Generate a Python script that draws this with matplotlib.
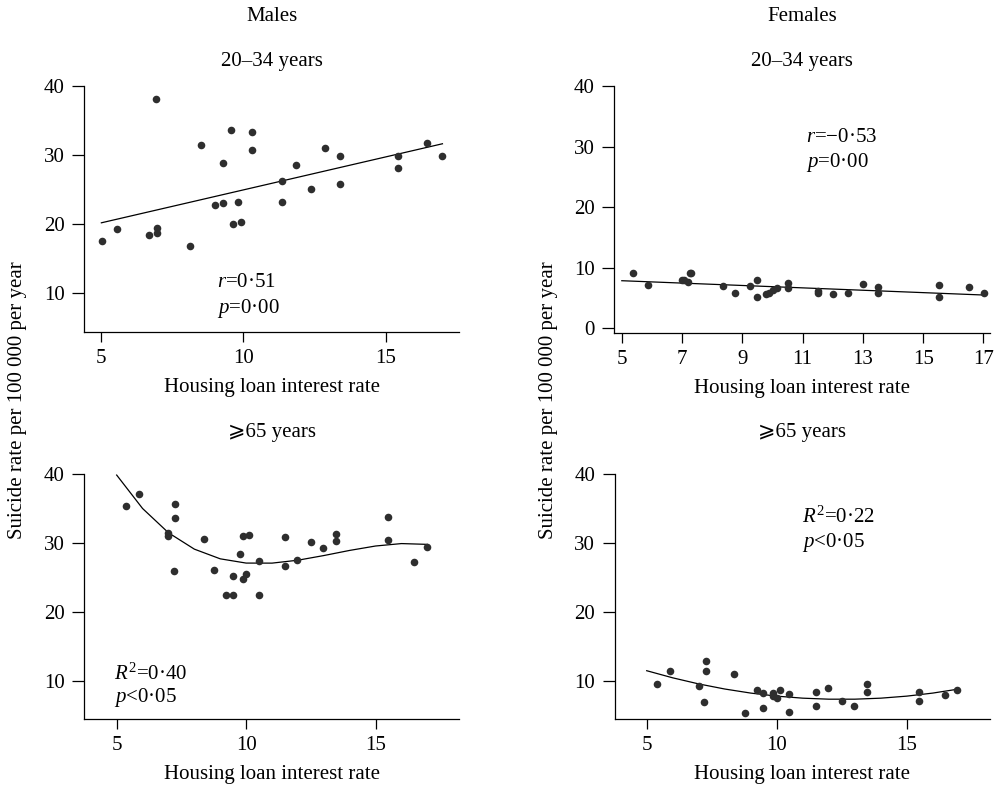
import numpy as np
import matplotlib.pyplot as plt

plt.rcParams['font.family'] = ['Liberation Serif', 'DejaVu Serif', 'DejaVu Sans']
plt.rcParams['mathtext.fontset'] = 'custom'
plt.rcParams['mathtext.rm'] = 'Liberation Serif'
plt.rcParams['mathtext.it'] = 'Liberation Serif:italic'

# values
male_young_x = [5.02, 5.55, 6.68, 6.91, 6.97, 6.97, 8.11, 8.49, 9.01, 9.27, 9.27, 9.55, 9.64, 9.80,
                9.90, 10.29, 10.29, 11.34, 11.34, 11.85, 12.37, 12.87, 13.39, 13.39, 15.44, 15.44,
                16.46, 16.99]
male_young_y = [17.5, 19.3, 18.4, 38.1, 19.4, 18.7, 16.9, 31.4, 22.8, 23.1, 28.9, 33.7, 20.0, 23.2,
                20.3, 33.4, 30.7, 26.2, 23.2, 28.6, 25.1, 31.0, 29.8, 25.8, 29.9, 28.2,
                31.8, 29.9]

female_young_x = [5.37, 5.86, 7.01, 7.05, 7.20, 7.26, 7.28, 8.37, 8.74, 9.27, 9.50, 9.50, 9.77, 9.90,
                  10.02, 10.15, 10.50, 10.50, 11.50, 11.50, 12.01, 12.51, 13.01, 13.51, 13.51,
                  15.52, 15.52, 16.52, 17.01]
female_young_y = [9.1, 7.2, 7.9, 8.0, 7.7, 9.1, 9.2, 7.0, 5.8, 7.0, 8.0, 5.1, 5.7, 5.9,
                  6.3, 6.6, 7.5, 6.6, 6.2, 5.9, 5.7, 5.9, 7.3, 6.8, 5.9,
                  7.2, 5.2, 6.9, 5.8]

male_old_x = [5.37, 5.86, 6.99, 6.99, 7.26, 7.26, 7.20, 8.36, 8.74, 9.23, 9.49, 9.49, 9.76, 9.86,
              9.87, 10.00, 10.13, 10.49, 10.49, 11.50, 11.50, 11.97, 12.50, 12.98, 13.47, 13.47,
              15.49, 15.49, 16.49, 16.97]
male_old_y = [35.4, 37.1, 31.4, 31.0, 35.6, 33.6, 25.9, 30.5, 26.1, 22.5, 22.5, 25.2, 28.4, 31.0,
              24.7, 25.5, 31.2, 27.4, 22.5, 30.8, 26.6, 27.5, 30.2, 29.2, 31.3, 30.3,
              33.7, 30.4, 27.2, 29.4]

female_old_x = [5.40, 5.88, 7.01, 7.27, 7.27, 7.22, 8.37, 8.77, 9.24, 9.48, 9.48, 9.87, 9.87, 10.00,
                10.12, 10.48, 10.48, 11.50, 11.50, 11.97, 12.50, 12.97, 13.47, 13.47, 15.46, 15.46,
                16.47, 16.95]
female_old_y = [9.5, 11.4, 9.2, 12.9, 11.4, 6.9, 10.9, 5.3, 8.6, 8.2, 6.1, 8.2, 7.8, 7.5,
                8.6, 8.1, 5.4, 8.3, 6.3, 8.9, 7.1, 6.4, 9.5, 8.3, 8.3, 7.0,
                7.9, 8.6]

# fitted curves as drawn in the figure (polynomial coefficients, highest power first)
male_young_fit = [0.9533, 15.43]
female_young_fit = [-0.1967, 8.84]
male_old_fit = [-0.0299, 1.202, -15.352, 90.29]
female_old_fit = [0.0738, -1.845, 18.83]
fit_x = np.arange(5, 18)

panels = [
    dict(x=male_young_x, y=male_young_y, fit=male_young_fit,
         rect=[0.0844, 0.5783, 0.375, 0.3126], xlim=(4.4, 17.58), ylim=(4.35, 40),
         xticks=[5, 10, 15], yticks=[10, 20, 30, 40],
         txt=[(0.353, 0.185, '$\\mathit{r}$=0·51'), (0.353, 0.078, '$\\mathit{p}$=0·00')]),
    dict(x=female_young_x, y=female_young_y, fit=female_young_fit,
         rect=[0.6149, 0.577, 0.3761, 0.3138], xlim=(4.75, 17.22), ylim=(-0.83, 40),
         xticks=[5, 7, 9, 11, 13, 15, 17], yticks=[0, 10, 20, 30, 40],
         txt=[(0.51, 0.775, '$\\mathit{r}$=\u22120·53'), (0.51, 0.674, '$\\mathit{p}$=0·00')]),
    dict(x=male_old_x, y=male_old_y, fit=male_old_fit,
         rect=[0.0844, 0.0872, 0.375, 0.3113], xlim=(3.75, 18.22), ylim=(4.4, 40),
         xticks=[5, 10, 15], yticks=[10, 20, 30, 40],
         txt=[(0.08, 0.163, '$\\mathit{R}^{\\mathrm{2}}$=0·40'), (0.08, 0.069, '$\\mathit{p}$<0·05')]),
    dict(x=female_old_x, y=female_old_y, fit=female_old_fit,
         rect=[0.6156, 0.0872, 0.3754, 0.3113], xlim=(3.78, 18.2), ylim=(4.4, 40),
         xticks=[5, 10, 15], yticks=[10, 20, 30, 40],
         txt=[(0.498, 0.80, '$\\mathit{R}^{\\mathrm{2}}$=0·22'), (0.498, 0.704, '$\\mathit{p}$<0·05')]),
]

fig = plt.figure(figsize=(9.99, 7.88), dpi=100)

for p in panels:
    ax = fig.add_axes(p['rect'])
    ax.scatter(p['x'], p['y'], s=30, color='#2e2e2e', linewidths=0, zorder=3, clip_on=False)
    ax.plot(fit_x, np.polyval(p['fit'], fit_x), color='black', lw=0.9)
    ax.set_xlim(p['xlim'])
    ax.set_ylim(p['ylim'])
    ax.set_xticks(p['xticks'])
    ax.set_yticks(p['yticks'])
    for s in ['top', 'right']:
        ax.spines[s].set_visible(False)
    for s in ['left', 'bottom']:
        ax.spines[s].set_linewidth(0.9)
    ax.tick_params(axis='y', length=8.3, width=0.9, pad=6, labelsize=15)
    ax.tick_params(axis='x', length=7, width=0.9, pad=5, labelsize=15)
    ax.set_xlabel('Housing loan interest rate', fontsize=15, labelpad=7)
    for tx, ty, s in p['txt']:
        ax.text(tx, ty, s, transform=ax.transAxes, fontsize=15, va='baseline', ha='left')

fig.text(0.272, 0.973, 'Males', fontsize=15, ha='center', va='baseline')
fig.text(0.803, 0.973, 'Females', fontsize=15, ha='center', va='baseline')
for cx in [0.272, 0.803]:
    fig.text(cx, 0.916, '20\u201334 years', fontsize=15, ha='center', va='baseline')
    fig.text(cx, 0.4454, '\u2a7e65 years', fontsize=15, ha='center', va='baseline')

for lx in [0.0175, 0.549]:
    fig.text(lx, 0.492, 'Suicide rate per 100 000 per year', fontsize=15,
             rotation=90, ha='center', va='center')

fig.savefig('out.png', dpi=100)
